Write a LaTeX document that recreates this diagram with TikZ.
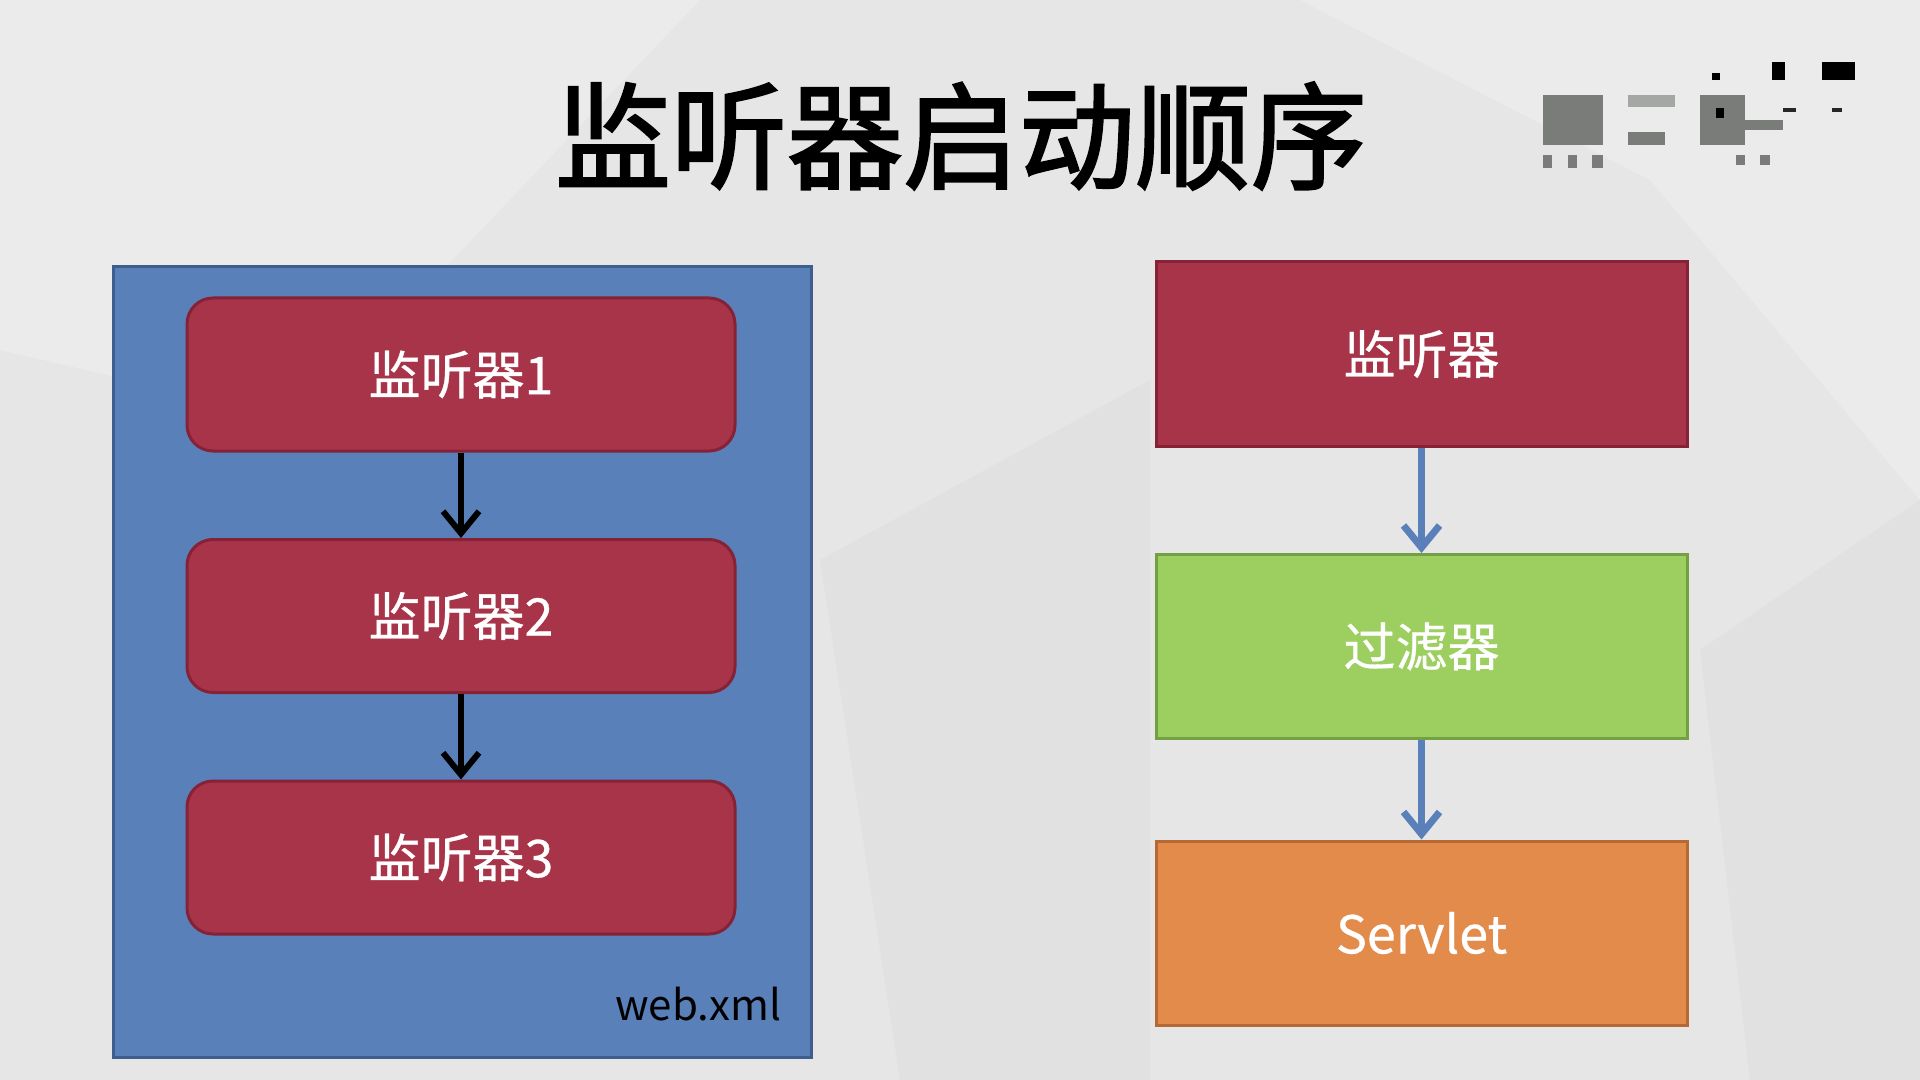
\documentclass[tikz,border=0pt]{standalone}
\usepackage{fontspec}
\setmainfont{Noto Sans CJK SC}
\newfontfamily\titlefont[FakeBold=2]{Noto Sans CJK SC}
\newfontfamily\boxfont[FakeBold=0.6]{Noto Sans CJK SC}
\usetikzlibrary{arrows.meta}
\definecolor{bg}{HTML}{E5E6E5}
\definecolor{bglight}{HTML}{EAEBEA}
\definecolor{bgdark}{HTML}{E0E1E0}
\definecolor{xmlblue}{HTML}{5A80BA}
\definecolor{xmlbluedk}{HTML}{3E5E90}
\definecolor{lred}{HTML}{A8344A}
\definecolor{lreddk}{HTML}{862236}
\definecolor{fgreen}{HTML}{9CCF5F}
\definecolor{fgreendk}{HTML}{74A044}
\definecolor{sorange}{HTML}{E28B4B}
\definecolor{sorangedk}{HTML}{B56A35}
\definecolor{arrowblue}{HTML}{5A80BA}
\definecolor{mosaic}{HTML}{7A7C7A}
\definecolor{mosaiclt}{HTML}{A5A7A5}
\tikzset{
  x=0.5pt, y=-0.5pt,
  boxtext/.style={font=\boxfont\fontsize{26}{30}\selectfont, text=white},
  redbox/.style={boxtext, draw=lreddk, fill=lred, line width=1.5pt, rounded corners=13pt,
    minimum width=274pt, minimum height=76.5pt, inner sep=0pt},
  rightbox/.style={boxtext, line width=1.5pt, minimum width=265.5pt, minimum height=92pt, inner sep=0pt},
  blackarrow/.style={draw=black, line width=3pt, -{Straight Barb[length=11pt, width=18pt, line width=3pt]}},
  bluearrow/.style={draw=arrowblue, line width=3.5pt, -{Straight Barb[length=11pt, width=18pt, line width=3.5pt]}},
  mos/.style={fill=mosaic, draw=none}
}
\begin{document}
\begin{tikzpicture}
\useasboundingbox (0,0) rectangle (1920,1080);
% background
\fill[bg] (0,0) rectangle (1920,1080);
\fill[bglight] (0,0) -- (700,0) -- (300,420) -- (0,350) -- cycle;
\fill[bglight] (1300,0) -- (1920,0) -- (1920,500) -- (1650,180) -- cycle;
\fill[bgdark] (820,560) -- (1150,380) -- (1150,1080) -- (900,1080) -- cycle;
\fill[bgdark] (1700,650) -- (1920,500) -- (1920,1080) -- (1750,1080) -- cycle;
% mosaic watermark (blurred)
\fill[mos] (1543,95) rectangle (1603,145);
\fill[mos] (1543,155) rectangle (1552,168);
\fill[mos] (1568,155) rectangle (1577,168);
\fill[mos] (1592,155) rectangle (1603,168);
\fill[mosaiclt] (1628,95) rectangle (1675,107);
\fill[mos] (1628,132) rectangle (1665,145);
\fill[mos] (1700,95) rectangle (1745,145);
\fill[mos] (1736,155) rectangle (1745,165);
\fill[mos] (1760,155) rectangle (1770,165);
\fill[mos] (1740,120) rectangle (1783,130);
\fill[black] (1712,73) rectangle (1720,80);
\fill[black] (1772,62) rectangle (1785,80);
\fill[black] (1822,62) rectangle (1855,80);
\fill[black] (1716,108) rectangle (1724,118);
\fill[black!85] (1783,108) rectangle (1796,112);
\fill[black!85] (1832,108) rectangle (1842,112);
% title
\node (title) at (961,136) {\titlefont\fontsize{58}{64}\selectfont 监听器启动顺序};
% left container
\node[draw=xmlbluedk, fill=xmlblue, line width=1.5pt, minimum width=349pt, minimum height=395pt, inner sep=0pt] (webxml) at (462,662) {};
\node[font=\fontsize{21}{24}\selectfont, text=black, anchor=east] (webxmllabel) at (788,1004) {web.xml};
\node[redbox] (l1) at (461,374.5) {监听器1};
\node[redbox] (l2) at (461,616) {监听器2};
\node[redbox] (l3) at (461,857.5) {监听器3};
\draw[blackarrow] (l1.south) -- (l2.north);
\draw[blackarrow] (l2.south) -- (l3.north);
% right column
\node[rightbox, draw=lreddk, fill=lred] (listener) at (1421.5,354) {监听器};
\node[rightbox, draw=fgreendk, fill=fgreen] (filter) at (1421.5,646.5) {过滤器};
\node[rightbox, draw=sorangedk, fill=sorange] (servlet) at (1421.5,933) {Servlet};
\draw[bluearrow] (listener.south) -- (filter.north);
\draw[bluearrow] (filter.south) -- (servlet.north);
\end{tikzpicture}
\end{document}
